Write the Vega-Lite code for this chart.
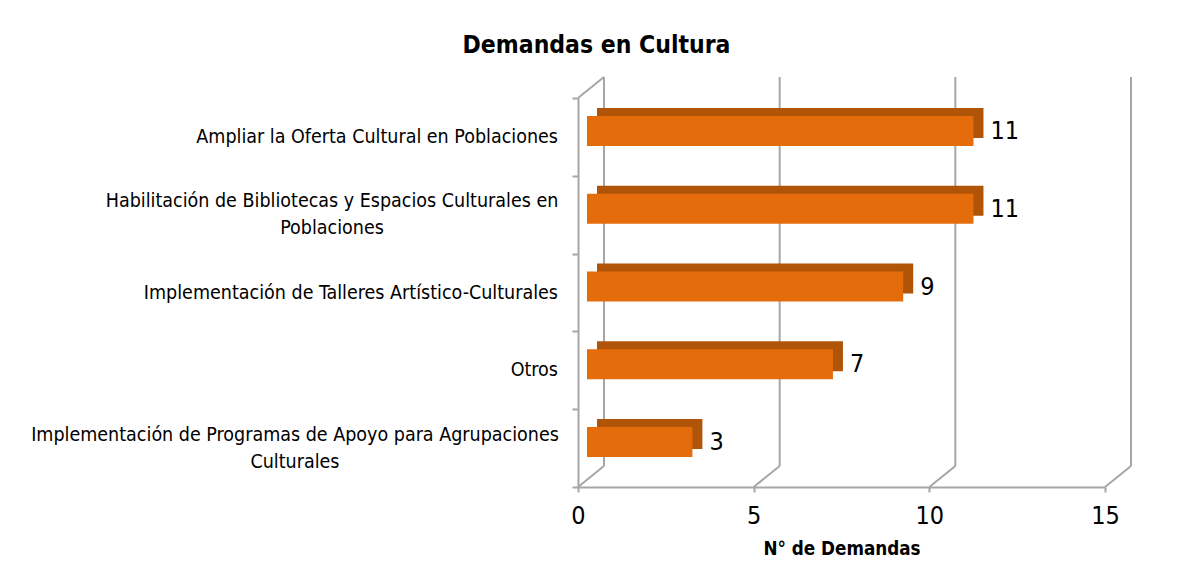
{
  "$schema": "https://vega.github.io/schema/vega-lite/v6.json",
  "width": 527,
  "height": 389,
  "autosize": {"type": "none"},
  "padding": {"left": 578, "top": 98, "right": 72, "bottom": 78},
  "background": "white",
  "config": {"view": {"stroke": null}, "font": "DejaVu Sans Condensed, Liberation Sans, sans-serif"},
  "title": {"text": "Demandas en Cultura", "font": "DejaVu Sans Condensed, Liberation Sans, sans-serif", "fontSize": 24.5, "fontWeight": "bold", "color": "#000000", "anchor": "middle", "frame": "group", "dx": -245, "offset": 18},
  "datasets": {
    "demandas": [
      {"categoria": "Ampliar la Oferta Cultural en Poblaciones", "demandas": 11},
      {"categoria": "Habilitación de Bibliotecas y Espacios Culturales en\nPoblaciones", "demandas": 11},
      {"categoria": "Implementación de Talleres Artístico-Culturales", "demandas": 9},
      {"categoria": "Otros", "demandas": 7},
      {"categoria": "Implementación de Programas de Apoyo para Agrupaciones\nCulturales", "demandas": 3}
    ],
    "marcas": [{"valor": 0}, {"valor": 5}, {"valor": 10}, {"valor": 15}]
  },
  "layer": [
    {
      "data": {"name": "marcas"},
      "mark": {"type": "rule", "color": "#a6a6a6", "strokeWidth": 2, "xOffset": 26, "yOffset": -21, "y2Offset": -21},
      "encoding": {
        "x": {
          "field": "valor", "type": "quantitative",
          "scale": {"domain": [0, 15], "nice": false},
          "axis": {
            "title": "N° de Demandas", "values": [0, 5, 10, 15], "grid": false, "orient": "bottom",
            "domain": true, "domainColor": "#a6a6a6", "domainWidth": 2,
            "ticks": true, "tickColor": "#a6a6a6", "tickWidth": 2, "tickSize": 5,
            "labelFontSize": 25, "labelColor": "#000000",
            "labelPadding": 11, "labelFlush": false,
            "titleFontSize": 18.7, "titleFontWeight": "bold", "titleColor": "#000000", "titlePadding": 11
          }
        },
        "y": {
          "datum": "Ampliar la Oferta Cultural en Poblaciones", "bandPosition": 0, "type": "nominal",
          "scale": {
            "domain": [
              "Ampliar la Oferta Cultural en Poblaciones",
              "Habilitación de Bibliotecas y Espacios Culturales en\nPoblaciones",
              "Implementación de Talleres Artístico-Culturales",
              "Otros",
              "Implementación de Programas de Apoyo para Agrupaciones\nCulturales"
            ],
            "paddingInner": 0, "paddingOuter": 0
          },
          "axis": {
            "title": null, "orient": "left", "labels": false,
            "domain": true, "domainColor": "#a6a6a6", "domainWidth": 2,
            "ticks": true, "tickBand": "extent", "tickColor": "#a6a6a6", "tickWidth": 2, "tickSize": 6
          }
        },
        "y2": {"datum": "Implementación de Programas de Apoyo para Agrupaciones\nCulturales", "bandPosition": 1}
      }
    },
    {
      "data": {"name": "marcas"},
      "mark": {"type": "rule", "color": "#a6a6a6", "strokeWidth": 2, "x2Offset": 26, "y2Offset": -21},
      "encoding": {
        "x": {"field": "valor", "type": "quantitative", "title": "N° de Demandas"},
        "x2": {"field": "valor"},
        "y": {"datum": "Implementación de Programas de Apoyo para Agrupaciones\nCulturales", "bandPosition": 1, "type": "nominal"},
        "y2": {"datum": "Implementación de Programas de Apoyo para Agrupaciones\nCulturales", "bandPosition": 1}
      }
    },
    {
      "data": {"name": "marcas"},
      "transform": [{"filter": "datum.valor == 0"}],
      "mark": {"type": "rule", "color": "#a6a6a6", "strokeWidth": 2, "x2Offset": 26, "y2Offset": -21},
      "encoding": {
        "x": {"field": "valor", "type": "quantitative", "title": "N° de Demandas"},
        "x2": {"field": "valor"},
        "y": {"datum": "Ampliar la Oferta Cultural en Poblaciones", "bandPosition": 0, "type": "nominal"},
        "y2": {"datum": "Ampliar la Oferta Cultural en Poblaciones", "bandPosition": 0}
      }
    },
    {
      "data": {"name": "demandas"},
      "mark": {"type": "bar", "color": "#b05408", "height": 30, "xOffset": 19, "x2Offset": 19, "yOffset": -14},
      "encoding": {
        "x": {"field": "demandas", "type": "quantitative", "title": "N° de Demandas"},
        "y": {"field": "categoria", "type": "nominal"}
      }
    },
    {
      "data": {"name": "demandas"},
      "mark": {"type": "bar", "color": "#e46c0a", "height": 30, "xOffset": 9, "x2Offset": 9, "yOffset": -6},
      "encoding": {
        "x": {"field": "demandas", "type": "quantitative", "title": "N° de Demandas"},
        "y": {"field": "categoria", "type": "nominal"}
      }
    },
    {
      "data": {"name": "demandas"},
      "mark": {"type": "text", "align": "left", "baseline": "middle", "dx": 26, "dy": -6, "fontSize": 25, "color": "#000000"},
      "encoding": {
        "x": {"field": "demandas", "type": "quantitative", "title": "N° de Demandas"},
        "y": {"field": "categoria", "type": "nominal"},
        "text": {"field": "demandas", "type": "quantitative"}
      }
    },
    {
      "data": {"name": "demandas"},
      "transform": [{"filter": "indexof(datum.categoria, '\\n') < 0"}],
      "mark": {"type": "text", "align": "right", "baseline": "middle", "dx": -20, "fontSize": 19.5, "color": "#000000"},
      "encoding": {
        "x": {"datum": 0},
        "y": {"field": "categoria", "type": "nominal"},
        "text": {"field": "categoria"}
      }
    },
    {
      "data": {"name": "demandas"},
      "transform": [{"filter": "indexof(datum.categoria, 'Habilitación') >= 0"}],
      "mark": {"type": "text", "align": "center", "baseline": "middle", "lineBreak": "\n", "lineHeight": 27, "dx": -246, "dy": -13.5, "fontSize": 19.5, "color": "#000000"},
      "encoding": {
        "x": {"datum": 0},
        "y": {"field": "categoria", "type": "nominal"},
        "text": {"field": "categoria"}
      }
    },
    {
      "data": {"name": "demandas"},
      "transform": [{"filter": "indexof(datum.categoria, 'Programas') >= 0"}],
      "mark": {"type": "text", "align": "center", "baseline": "middle", "lineBreak": "\n", "lineHeight": 27, "dx": -283, "dy": -13.5, "fontSize": 19.5, "color": "#000000"},
      "encoding": {
        "x": {"datum": 0},
        "y": {"field": "categoria", "type": "nominal"},
        "text": {"field": "categoria"}
      }
    }
  ]
}
